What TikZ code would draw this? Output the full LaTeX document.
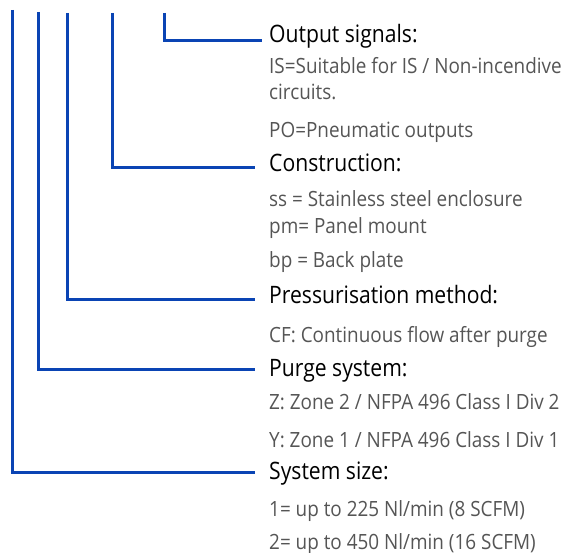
\documentclass[tikz,border=0pt]{standalone}
\usepackage{fontspec}
\setmainfont{Open Sans}[FakeStretch=0.9]
\newfontfamily\headfont{Open Sans}[FakeStretch=0.88]
\newfontfamily\subfont{Open Sans}[FakeStretch=0.9]
\definecolor{lineblue}{RGB}{10,68,180}
\definecolor{subgray}{RGB}{85,85,85}
\tikzset{
  lead/.style={draw=lineblue, line width=3pt},
  head/.style={anchor=base west, inner sep=0pt, text=black, font=\headfont\fontsize{24}{26}\selectfont},
  sub/.style={anchor=base west, inner sep=0pt, text=subgray, font=\subfont\fontsize{21}{23}\selectfont},
}
\begin{document}
\begin{tikzpicture}[x=1pt,y=-1pt]
\useasboundingbox (0,0) rectangle (565,553);
% headings
\node[head] (h1) at (269,43) {Output signals:};
\node[head] (h2) at (269,172) {Construction:};
\node[head] (h3) at (269,304) {Pressurisation method:};
\node[head] (h4) at (269,377) {Purge system:};
\node[head] (h5) at (269,479) {System size:};
% sub texts
\node[sub] (s1a) at (269,74) {IS=Suitable for IS / Non-incendive};
\node[sub] (s1b) at (269,100) {circuits.};
\node[sub] (s1c) at (269,138) {PO=Pneumatic outputs};
\node[sub] (s2a) at (269,207) {ss = Stainless steel enclosure};
\node[sub] (s2b) at (269,234) {pm= Panel mount};
\node[sub] (s2c) at (269,268) {bp = Back plate};
\node[sub] (s3a) at (269,342) {CF: Continuous flow after purge};
\node[sub] (s4a) at (269,409) {Z: Zone 2 / NFPA 496 Class I Div 2};
\node[sub] (s4b) at (269,447) {Y: Zone 1 / NFPA 496 Class I Div 1};
\node[sub] (s5a) at (269,516) {1= up to 225 Nl/min (8 SCFM)};
\node[sub] (s5b) at (269,549) {2= up to 450 Nl/min (16 SCFM)};
% connector ends
\coordinate (t1) at (164,13);
\coordinate (t2) at (112,13);
\coordinate (t3) at (67,13);
\coordinate (t4) at (38,12);
\coordinate (t5) at (12,10);
\coordinate (e1) at (262,41);
\coordinate (e2) at (255,168);
\coordinate (e3) at (255,300);
\coordinate (e4) at (255,369);
\coordinate (e5) at (255,472);
\draw[lead] (t1) |- (e1);
\draw[lead] (t2) |- (e2);
\draw[lead] (t3) |- (e3);
\draw[lead] (t4) |- (e4);
\draw[lead] (t5) |- (e5);
\end{tikzpicture}
\end{document}
